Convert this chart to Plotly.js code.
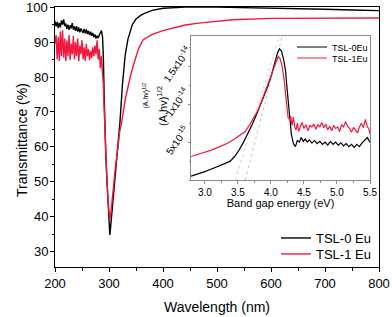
<!DOCTYPE html>
<html>
<head>
<meta charset="utf-8">
<script src="https://cdn.plot.ly/plotly-3.0.1.min.js"></script>
<style>html,body{margin:0;padding:0;background:#fff;}#chart{width:392px;height:317px;}</style>
</head>
<body>
<div id="chart"></div>
<script>
// ---- Main spectrum: wavelength (nm) vs transmittance (%) ----
const wl0 = [200,202,204,206,208,210,212,214,216,218,220,222,224,226,228,230,232,234,236,238,240,242,244,246,248,250,252,254,256,258,260,262,264,266,268,270,272,274,276,278,280,282,284,286,288,289.5,291,292.6,294,296,298,300,301.5,303,305,308,311,314,317,320,325,330,335,340,343,350,360,367,380,400,441,500,550,600,650,700,750,800];
const t0 = [96.0,94.5,95.8,94.0,95.5,94.2,96.2,95.0,96.5,94.6,95.3,93.8,95.0,93.5,94.8,93.9,95.4,93.6,94.5,93.2,94.6,93.0,94.2,92.8,93.9,93.4,92.6,93.8,92.5,93.6,92.3,93.2,92.0,93.0,91.8,92.6,91.4,92.2,91.0,91.8,91.2,92.0,92.8,93.3,91.5,86,75,63,58,51,44,37,34.8,37,40.5,46,51.5,57,62,66.5,78,86.3,90.8,93.6,94.9,96.6,97.8,98.3,99.1,99.7,100.0,100.0,99.9,99.8,99.6,99.4,99.2,99.0];

const wl1 = [200,202,204,206,208,210,212,214,216,218,220,222,224,226,228,230,232,234,236,238,240,242,244,246,248,250,252,254,256,258,260,262,264,266,268,270,272,274,276,278,280,282,284,286,288,289.5,291,292.6,294,296,298,300,301.5,303,305,308,311,314,317,320,323.4,326,330,335,340,348,355,363,380,400,441,470,530,600,700,800];
const t1 = [89.5,92.0,85.0,91.5,84.5,93.0,86.0,93.4,85.5,91.0,84.5,90.5,86.0,92.0,84.8,89.5,86.5,91.8,85.0,90.0,86.0,91.0,84.5,89.0,86.5,90.5,85.0,88.5,84.6,89.5,86.0,88.0,84.8,87.5,85.5,88.5,86.0,89.0,86.5,90.5,85.0,88.0,82.5,86.0,81.0,78,71,63,58,51,45,40,39.0,40.5,43,48,53,57.5,61.5,64.5,67,70,73.5,77,80.5,84.8,88.2,90.6,92.2,93.3,94.9,95.5,96.4,96.8,96.9,96.9];
const mainYTicks = [30,40,50,60,70,80,90,100];

// ---- Inset: band gap energy (eV) vs (A.hv)^1/2 (units of 1e-15) ----
const e0 = [2.79,2.9,3.0,3.1,3.2,3.3,3.38,3.45,3.5,3.58,3.65,3.72,3.79,3.85,3.9,3.95,4.0,4.05,4.1,4.13,4.16,4.19,4.22,4.25,4.28,4.31,4.34,4.37,4.4,4.43,4.46,4.49,4.52,4.55,4.58,4.62,4.66,4.7,4.74,4.78,4.82,4.86,4.9,4.94,4.98,5.02,5.06,5.1,5.14,5.18,5.22,5.26,5.3,5.34,5.38,5.42,5.46,5.5];
const a0 = [0.5,0.8,1.1,1.45,1.8,2.2,2.45,3.1,3.7,4.9,6.1,7.4,8.8,10.1,11.1,12.3,13.6,15.2,16.8,17.3,17.0,16.0,14.5,11.5,8.5,6.0,4.8,4.4,5.2,5.0,5.6,5.1,5.4,5.0,5.3,4.9,5.2,4.8,5.1,4.7,5.0,4.6,5.1,4.7,5.0,4.6,4.9,4.5,4.8,4.4,4.7,4.3,4.7,4.4,4.9,5.2,5.6,5.0];
const e1 = [2.79,2.9,3.0,3.1,3.2,3.3,3.35,3.45,3.55,3.61,3.68,3.75,3.81,3.88,3.96,4.02,4.07,4.11,4.14,4.17,4.2,4.23,4.26,4.28,4.3,4.32,4.34,4.36,4.38,4.4,4.42,4.44,4.47,4.5,4.53,4.56,4.59,4.62,4.65,4.68,4.71,4.74,4.77,4.8,4.83,4.86,4.89,4.92,4.95,4.98,5.01,5.04,5.07,5.1,5.13,5.16,5.19,5.22,5.25,5.28,5.31,5.34,5.37,5.4,5.43,5.46,5.48,5.5];
const a1 = [3.1,3.4,3.65,3.95,4.3,4.65,4.87,5.4,6.0,6.4,7.3,8.3,9.3,10.9,12.8,14.4,15.6,16.3,16.0,15.0,13.2,10.5,8.2,8.0,8.4,7.2,8.3,7.0,6.6,7.5,6.4,6.9,7.6,6.8,7.3,6.5,7.2,7.0,7.4,6.7,7.3,7.0,7.6,6.9,7.4,6.6,7.1,6.5,7.2,6.8,7.0,6.4,7.3,7.0,7.7,7.1,6.8,6.3,6.9,6.6,6.2,7.0,7.5,6.9,8.0,7.0,6.8,6.1];
// tangent (extrapolation) lines
const tanE0 = [3.61,4.17], tanA0 = [0,19];
const tanE1 = [3.46,4.13], tanA1 = [0,19];

const insetTickVals = [5,10,15];
const insetTickText = ['5x10<sup>-15</sup>','1x10<sup>-14</sup>','1.5x10<sup>-14</sup>'];
const names = ['TSL-0 Eu','TSL-1 Eu'];
const insetNames = ['TSL-0Eu','TSL-1Eu'];
const insetYTitle = '(A.hv)<sup>1/2</sup>';

const RED = '#f2183f';
const GRAY = '#8a8a8a';

const traces = [
  {x: wl0, y: t0, mode:'lines', name: names[0], line:{color:'#000', width:1.4}, legend:'legend'},
  {x: wl1, y: t1, mode:'lines', name: names[1], line:{color:RED, width:1.4}, legend:'legend3'},
  {x: tanE1, y: tanA1, xaxis:'x2', yaxis:'y2', mode:'lines', showlegend:false, line:{color:'#f3b3c0', width:0.8, dash:'dot'}},
  {x: tanE0, y: tanA0, xaxis:'x2', yaxis:'y2', mode:'lines', showlegend:false, line:{color:'#b8b8b8', width:0.8, dash:'dot'}},
  {x: e0, y: a0, xaxis:'x2', yaxis:'y2', mode:'lines', name: insetNames[0], line:{color:'#000', width:1.2}, legend:'legend2'},
  {x: e1, y: a1, xaxis:'x2', yaxis:'y2', mode:'lines', name: insetNames[1], line:{color:RED, width:1.2}, legend:'legend4'}
];

const FONT = 'Liberation Sans, Arial, sans-serif';
const H = 260, TOP = 7, W = 324, LEFT = 55;
const px = v => (v - LEFT) / W;        // pixel x -> paper x
const py = v => (TOP + H - v) / H;     // pixel y -> paper y

function legendAt(xp, yp, size) {
  return {x: px(xp), y: py(yp), xanchor:'left', yanchor:'middle', bgcolor:'rgba(0,0,0,0)',
          font:{size:size}, tracegroupgap:0, itemwidth:30, borderwidth:0};
}

const annotations = [
  {xref:'paper', yref:'paper', x:px(12), y:py(140), text:'Transmittance (%)', textangle:-90, showarrow:false, font:{size:14}},
  {xref:'paper', yref:'paper', x:px(139), y:py(96), text:insetYTitle, textangle:-90, showarrow:false, font:{size:7}},
  {xref:'paper', yref:'paper', x:px(153), y:py(106), text:insetYTitle, textangle:-90, showarrow:false, font:{size:11}}
];
mainYTicks.forEach(v => {
  annotations.push({xref:'paper', yref:'y', x:px(50), y:v, text:String(v), showarrow:false,
    xanchor:'right', yanchor:'middle', font:{size:13, color:'#000'}});
});
insetTickVals.forEach((v, i) => {
  annotations.push({xref:'paper', yref:'y2', x:px(177), y:v, yshift:2, text:insetTickText[i], textangle:-55,
    showarrow:false, xanchor:'center', yanchor:'middle', font:{size:10}});
});

const layout = {
  width:392, height:317,
  margin:{l:55, r:13, t:7, b:50},
  paper_bgcolor:'#fff', plot_bgcolor:'#fff',
  font:{family:FONT, color:'#000', size:13},
  showlegend:true,
  xaxis:{
    domain:[0,1], range:[200,800], dtick:100, tick0:200,
    ticks:'outside', ticklen:4, tickwidth:1, tickcolor:'#000',
    minor:{dtick:50, ticks:'outside', ticklen:2.5, tickcolor:'#000'},
    showline:true, linecolor:'#000', linewidth:1, mirror:true,
    showgrid:false, zeroline:false, ticklabeloverflow:'allow',
    tickfont:{size:13},
    title:{text:'Wavelength (nm)', font:{size:14}, standoff:12}
  },
  yaxis:{
    domain:[0,1], range:[25.6,100.05], tickvals:mainYTicks, showticklabels:false,
    ticks:'outside', ticklen:4, tickwidth:1, tickcolor:'#000',
    minor:{dtick:5, tick0:0, ticks:'outside', ticklen:2.5, tickcolor:'#000'},
    showline:true, linecolor:'#000', linewidth:1, mirror:true,
    showgrid:false, zeroline:false
  },
  xaxis2:{
    domain:[px(191), px(370)], anchor:'y2', range:[2.79,5.5], dtick:0.5, tick0:3.0, tickformat:'.1f',
    ticks:'outside', ticklen:2.5, tickcolor:GRAY,
    minor:{dtick:0.25, ticks:'outside', ticklen:1.5, tickcolor:GRAY},
    showline:true, linecolor:GRAY, linewidth:1, mirror:true,
    showgrid:false, zeroline:false, ticklabeloverflow:'allow',
    tickfont:{size:10},
    title:{text:'Band gap energy (eV)', font:{size:11}, standoff:1}
  },
  yaxis2:{
    domain:[py(180), py(36)], anchor:'x2', range:[0,19],
    tickvals:insetTickVals, showticklabels:false,
    ticks:'outside', ticklen:2.5, tickcolor:GRAY,
    minor:{dtick:2.5, ticks:'outside', ticklen:1.5, tickcolor:GRAY},
    showline:true, linecolor:GRAY, linewidth:1, mirror:true,
    showgrid:false, zeroline:false
  },
  legend: legendAt(276, 238, 13),
  legend3: legendAt(276, 254, 13),
  legend2: legendAt(292, 47, 9),
  legend4: legendAt(292, 58, 9),
  annotations: annotations
};

Plotly.newPlot('chart', traces, layout, {displayModeBar:false, staticPlot:true});
</script>
</body>
</html>
